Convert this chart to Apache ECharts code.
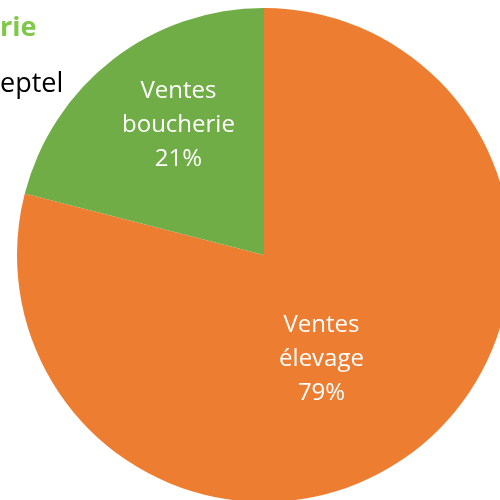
<!DOCTYPE html>
<html>
<head>
<meta charset="utf-8">
<script src="https://cdn.jsdelivr.net/npm/echarts@6/dist/echarts.min.js"></script>
<style>
  html, body { margin: 0; padding: 0; background: #fff; }
  #chart { width: 500px; height: 500px; }
</style>
</head>
<body>
<div id="chart"></div>
<script>
const categories = ['Ventes\nélevage', 'Ventes\nboucherie'];
const values = [79, 21];
const colors = ['#ED7D31', '#70AD47'];
const titleText = 'rie';
const legendText = 'eptel';

const chart = echarts.init(document.getElementById('chart'));

// label nudges to match the original placement
const nudges = [[-20, 4], [-8, -30]];

const option = {
  animation: false,
  textStyle: { fontFamily: 'Open Sans' },
  graphic: [
    {
      type: 'text',
      left: 0,
      top: 15,
      style: { text: titleText, fill: '#7FC84A', fontFamily: 'Open Sans', fontWeight: 'bold', fontSize: 27 }
    },
    {
      type: 'text',
      left: 0,
      top: 71,
      style: { text: legendText, fill: '#000', fontFamily: 'Open Sans', fontSize: 27 }
    }
  ],
  series: [
    {
      type: 'pie',
      center: [264, 255],
      radius: 247,
      startAngle: 90,
      clockwise: true,
      itemStyle: { borderWidth: 0 },
      label: {
        position: 'inside',
        color: '#fff',
        fontSize: 24,
        lineHeight: 34,
        fontFamily: 'Open Sans',
        formatter: p => p.name + '\n' + p.value + '%'
      },
      labelLayout: p => ({ dx: nudges[p.dataIndex][0], dy: nudges[p.dataIndex][1] }),
      emphasis: { disabled: true },
      data: categories.map((c, i) => ({ name: c, value: values[i], itemStyle: { color: colors[i] } }))
    }
  ]
};

chart.setOption(option);
</script>
</body>
</html>
